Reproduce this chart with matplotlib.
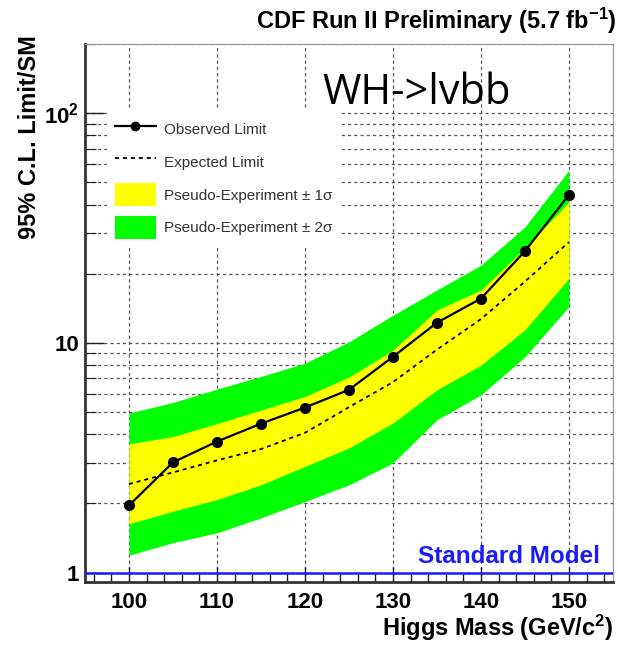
import numpy as np
import matplotlib
matplotlib.use("Agg")
import matplotlib.pyplot as plt
from matplotlib.ticker import FixedLocator, MultipleLocator, LogLocator, FuncFormatter, NullFormatter
from matplotlib.lines import Line2D
from matplotlib.patches import Patch

plt.rcParams['font.family'] = ['Liberation Sans', 'DejaVu Sans']
plt.rcParams['mathtext.fontset'] = 'custom'
plt.rcParams['mathtext.rm'] = 'Liberation Sans'
plt.rcParams['mathtext.bf'] = 'Liberation Sans:bold'
plt.rcParams['mathtext.it'] = 'Liberation Sans:italic'

# limits on sigma/sigma_SM vs Higgs mass
mass = [100, 105, 110, 115, 120, 125, 130, 135, 140, 145, 150]
observed = [1.96, 3.02, 3.72, 4.45, 5.23, 6.25, 8.7, 12.25, 15.6, 25.1, 44.1]
expected = [2.43, 2.73, 3.08, 3.45, 4.06, 5.25, 6.75, 9.35, 12.7, 18.5, 27.5]
sig1_lo = [1.63, 1.85, 2.08, 2.41, 2.9, 3.49, 4.48, 6.25, 8.0, 11.4, 19.1]
sig1_hi = [3.63, 3.91, 4.45, 5.1, 5.84, 7.1, 9.3, 13.9, 17.0, 25.9, 41.1]
sig2_lo = [1.19, 1.35, 1.49, 1.73, 2.04, 2.41, 3.0, 4.63, 5.94, 8.7, 14.4]
sig2_hi = [4.95, 5.5, 6.29, 7.14, 8.16, 10.1, 13.2, 17.0, 21.8, 32.0, 56.5]
sm_level = 1.0

fig = plt.figure(figsize=(6.18, 6.45), dpi=100)
ax = fig.add_axes([0.1375, 0.0977, 0.8544, 0.834])

ax.fill_between(mass, sig2_lo, sig2_hi, color='#00ff00', lw=0, zorder=2)
ax.fill_between(mass, sig1_lo, sig1_hi, color='#ffff00', lw=0, zorder=3)
ax.plot(mass, expected, color='black', lw=1.3, ls=(0, (2.2, 2.2)), zorder=4)
ax.plot(mass, observed, color='black', lw=1.6, marker='o', ms=7, zorder=5)
ax.axhline(sm_level, color='#1a1aff', lw=1.8, zorder=6)

ax.set_yscale('log')
ax.set_xlim(95, 155)
ax.set_ylim(0.91, 200)

ax.xaxis.set_major_locator(MultipleLocator(10))
ax.xaxis.set_minor_locator(MultipleLocator(2))
ax.yaxis.set_major_locator(FixedLocator([1, 10, 100]))
ax.yaxis.set_minor_locator(LogLocator(base=10, subs=np.arange(2, 10)))
ax.yaxis.set_minor_formatter(NullFormatter())


def ylab(v, pos):
    if v >= 100:
        return r'$\mathbf{10^{2}}$'
    return '%d' % v


ax.yaxis.set_major_formatter(FuncFormatter(ylab))

ax.tick_params(axis='both', which='both', direction='in', labelsize=16,
               colors='#222222', labelcolor='black')
ax.tick_params(axis='x', which='major', length=11, width=1.0, pad=7)
ax.tick_params(axis='x', which='minor', length=6, width=1.0)
ax.tick_params(axis='y', which='major', length=14, width=1.0, pad=4)
ax.tick_params(axis='y', which='minor', length=8, width=0.8)
for lab in ax.get_xticklabels() + ax.get_yticklabels():
    lab.set_fontweight('bold')

# dashed grid: vertical at every 10 GeV, horizontal at every log tick
ax.grid(True, which='major', axis='x', color='#555555', lw=0.9, ls=(0, (2.5, 2.5)), zorder=1)
ax.grid(True, which='both', axis='y', color='#555555', lw=0.9, ls=(0, (2.5, 2.5)), zorder=1)
ax.set_axisbelow(True)

for s in ['left', 'bottom']:
    ax.spines[s].set_linewidth(2.0)
    ax.spines[s].set_color('#333333')
for s in ['top', 'right']:
    ax.spines[s].set_linewidth(0.9)
    ax.spines[s].set_color('#999999')

handles = [
    Line2D([], [], color='black', lw=1.6, marker='o', ms=6),
    Line2D([], [], color='black', lw=1.3, ls=(0, (2.2, 2.2))),
    Patch(facecolor='#ffff00', edgecolor='none'),
    Patch(facecolor='#00ff00', edgecolor='none'),
]
labels = ['Observed Limit', 'Expected Limit',
          'Pseudo-Experiment \u00b1 1\u03c3', 'Pseudo-Experiment \u00b1 2\u03c3']
leg = ax.legend(handles, labels, loc='upper left', bbox_to_anchor=(0.042, 0.878),
                borderaxespad=0, borderpad=0.5, frameon=True, fancybox=False,
                framealpha=1, edgecolor='none', facecolor='white',
                handlelength=2.7, handleheight=2.0, handletextpad=0.55,
                labelspacing=0.6, prop={'size': 11})
for t in leg.get_texts():
    t.set_color('#333333')
leg.set_zorder(7)

ax.text(0.975, 0.035, 'Standard Model', transform=ax.transAxes, ha='right',
        va='baseline', color='#1a1aff', fontsize=17.5, fontweight='bold', zorder=8)

fig.text(0.997, 0.968, r'CDF Run II Preliminary (5.7 fb$^{\mathbf{-1}}$)', ha='right',
         va='center', fontsize=17, fontweight='bold')
fig.text(0.521, 0.838, 'WH->lvbb', ha='left', va='baseline', fontsize=30,
         family='Open Sans')
fig.text(0.048, 0.946, '95% C.L. Limit/SM', rotation=90, ha='center', va='top',
         fontsize=17, fontweight='bold')
fig.text(0.992, 0.014, r'Higgs Mass (GeV/c$^{\mathbf{2}}$)', ha='right', va='baseline',
         fontsize=17, fontweight='bold')

fig.savefig('out.png', dpi=100)
